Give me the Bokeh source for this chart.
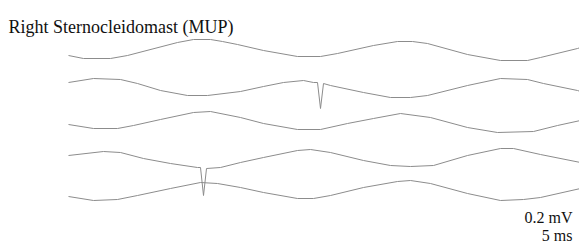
from bokeh.plotting import figure
from bokeh.models import Range1d, Label
from bokeh.embed import file_html
from bokeh.resources import INLINE

title_text = "Right Sternocleidomast (MUP)"
amp_label = "0.2 mV"
time_label = "5 ms"

# vertical offset of each sweep (mV)
row_offset_mv = [0.0, -0.38, -0.72, -1.08, -1.40]

# sweep 1
t1 = [0.0, 1.5, 4.2, 5.9, 10.9, 12.5, 14.2, 15.4, 16.9, 19.5, 22.9, 25.2, 26.9, 30.5, 32.9, 34.4, 35.9, 39.9, 43.2, 45.9, 47.2, 50.9, 51.2]
v1 = [-0.05, -0.08, -0.08, -0.05, 0.08, 0.11, 0.11, 0.09, 0.06, 0.0, -0.06, -0.06, -0.03, 0.05, 0.09, 0.09, 0.07, -0.04, -0.10, -0.10, -0.07, 0.02, 0.03]

# sweep 2 (MUP at ~25 ms)
t2 = [0.0, 2.5, 5.2, 6.9, 9.2, 11.9, 13.9, 17.2, 19.5, 21.5, 23.5, 24.5, 24.9, 25.2, 25.5, 26.2, 29.5, 32.2, 34.2, 35.9, 39.9, 43.2, 45.9, 47.5, 50.9, 51.2]
v2 = [0.06, 0.10, 0.09, 0.05, -0.02, -0.07, -0.07, -0.03, 0.02, 0.06, 0.08, 0.06, 0.06, -0.20, 0.05, 0.03, -0.04, -0.09, -0.09, -0.07, 0.03, 0.10, 0.09, 0.05, -0.02, -0.03]

# sweep 3
t3 = [0.0, 2.5, 4.9, 6.5, 9.2, 12.5, 14.2, 17.2, 19.5, 22.9, 25.2, 27.9, 30.5, 33.2, 36.2, 39.9, 42.9, 46.5, 48.9, 51.2]
v3 = [-0.02, -0.06, -0.06, -0.03, 0.03, 0.10, 0.11, 0.05, -0.01, -0.07, -0.07, -0.01, 0.04, 0.09, 0.05, -0.05, -0.10, -0.09, -0.03, 0.02]

# sweep 4 (MUP at ~13.5 ms)
t4 = [0.0, 3.5, 5.2, 7.5, 10.2, 12.9, 13.2, 13.5, 13.8, 15.2, 17.2, 19.5, 22.9, 24.2, 26.2, 29.5, 32.2, 34.2, 36.5, 39.9, 43.2, 44.5, 47.2, 51.2]
v4 = [0.03, 0.07, 0.06, 0.0, -0.05, -0.09, -0.09, -0.37, -0.10, -0.09, -0.04, 0.01, 0.08, 0.09, 0.06, -0.02, -0.07, -0.08, -0.07, 0.03, 0.10, 0.10, 0.04, -0.04]

# sweep 5
t5 = [0.0, 2.5, 4.9, 6.9, 10.2, 13.2, 14.9, 17.2, 19.5, 22.9, 24.5, 26.2, 29.5, 32.9, 34.2, 36.2, 39.9, 43.2, 45.5, 47.2, 51.2]
v5 = [-0.06, -0.10, -0.09, -0.05, 0.02, 0.08, 0.07, 0.03, -0.02, -0.08, -0.08, -0.05, 0.03, 0.09, 0.10, 0.07, -0.03, -0.10, -0.09, -0.07, 0.02]

sweeps_t = [t1, t2, t3, t4, t5]
sweeps_v = [v1, v2, v3, v4, v5]

p = figure(width=579, height=244, output_backend="svg", toolbar_location=None,
           x_range=Range1d(-6.8, 51.1), y_range=Range1d(-1.94, 0.50),
           min_border=0, min_border_left=0, min_border_right=0,
           min_border_top=0, min_border_bottom=0)
p.xaxis.visible = False
p.yaxis.visible = False
p.grid.visible = False
p.outline_line_color = None
p.background_fill_color = "white"
p.border_fill_color = "white"

for tt, vv, off in zip(sweeps_t, sweeps_v, row_offset_mv):
    p.line(tt, [v + off for v in vv], line_color="#8c8c8c", line_width=1)

font = "Liberation Serif"
p.add_layout(Label(x=8, y=218, x_units="screen", y_units="screen", text=title_text,
                   text_font=font, text_font_size="18px", text_color="#111111",
                   text_baseline="alphabetic", text_align="left"))
p.add_layout(Label(x=572, y=27, x_units="screen", y_units="screen", text=amp_label,
                   text_font=font, text_font_size="16px", text_color="#111111",
                   text_baseline="alphabetic", text_align="right"))
p.add_layout(Label(x=572, y=9, x_units="screen", y_units="screen", text=time_label,
                   text_font=font, text_font_size="16px", text_color="#111111",
                   text_baseline="alphabetic", text_align="right"))

open("out.html", "w").write(file_html(p, INLINE))
